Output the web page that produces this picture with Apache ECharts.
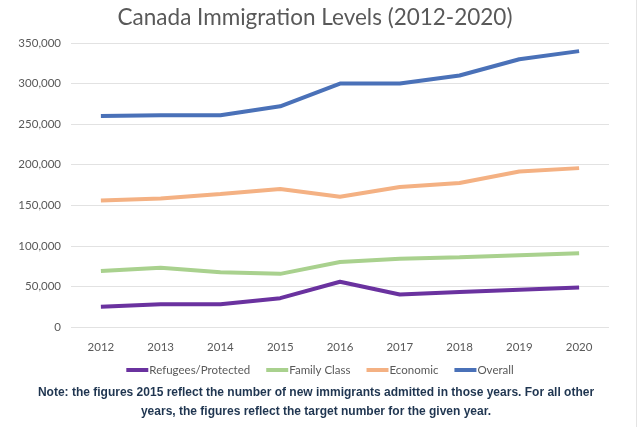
<!DOCTYPE html>
<html><head><meta charset="utf-8">
<script src="https://cdn.jsdelivr.net/npm/echarts@6/dist/echarts.min.js"></script>
<style>html,body{margin:0;padding:0;background:#fff}#c{width:640px;height:427px}</style>
</head><body><div id="c"></div>
<script>
const years = ['2012','2013','2014','2015','2016','2017','2018','2019','2020'];
const refugees = [25000, 28000, 28000, 35500, 55800, 40000, 43000, 46000, 48700];
const family = [69000, 73000, 67500, 65500, 80000, 84000, 86000, 88500, 91000];
const economic = [156000, 158500, 164000, 170000, 160600, 172500, 177500, 191600, 195800];
const overall = [260000, 261000, 261000, 272000, 300000, 300000, 310000, 330000, 340000];
const seriesNames = ['Refugees/Protected','Family Class','Economic','Overall'];
const colors = ['#6a329f','#a9d18e','#f4b183','#4a71b8'];
const chartTitle = 'Canada Immigration Levels (2012-2020)';
const noteLines = ['Note: the figures 2015 reflect the number of new immigrants admitted in those years. For all other',
                   'years, the figures reflect the target number for the given year.'];

const chart = echarts.init(document.getElementById('c'));
const data = [refugees, family, economic, overall];
chart.setOption({
  animation: false,
  graphic: [
    {type: 'text', x: 315, y: 18,
     style: {text: chartTitle, textAlign: 'center', textVerticalAlign: 'middle',
       font: '22.5px Lato', fill: '#595959'}},
    {type: 'line', shape: {x1: 636.5, y1: 0, x2: 636.5, y2: 427},
     style: {stroke: '#e4e4e4', lineWidth: 1}}
  ].concat(noteLines.map((t, i) => ({
    type: 'text', x: 316, y: 393 + i * 19,
    style: {text: t, textAlign: 'center', textVerticalAlign: 'middle',
      font: 'bold 12px "Liberation Sans"', fill: '#1f3550'}
  }))),
  grid: {left: 71, right: 31, top: 43, bottom: 100, containLabel: false},
  legend: {
    top: 359, left: 'center', itemWidth: 22, itemHeight: 4, itemGap: 16,
    icon: 'rect',
    textStyle: {fontFamily: 'Lato', fontSize: 11.5, color: '#595959', padding: [0,0,0,-4]},
    data: seriesNames
  },
  xAxis: {
    type: 'category', data: years, boundaryGap: true,
    axisLine: {show: false}, axisTick: {show: false},
    axisLabel: {fontFamily: 'Lato', fontSize: 11.5, color: '#595959', margin: 14}
  },
  yAxis: {
    type: 'value', min: 0, max: 350000, interval: 50000,
    axisLine: {show: false}, axisTick: {show: false},
    splitLine: {lineStyle: {color: '#e2e2e2', width: 1}},
    axisLabel: {fontFamily: 'Lato', fontSize: 11.5, color: '#595959', margin: 10,
      formatter: v => v.toLocaleString('en-US')}
  },
  series: seriesNames.map((n, i) => ({
    name: n, type: 'line', data: data[i], symbol: 'none',
    lineStyle: {width: 4, color: colors[i]}, itemStyle: {color: colors[i]}
  }))
});
</script></body></html>
